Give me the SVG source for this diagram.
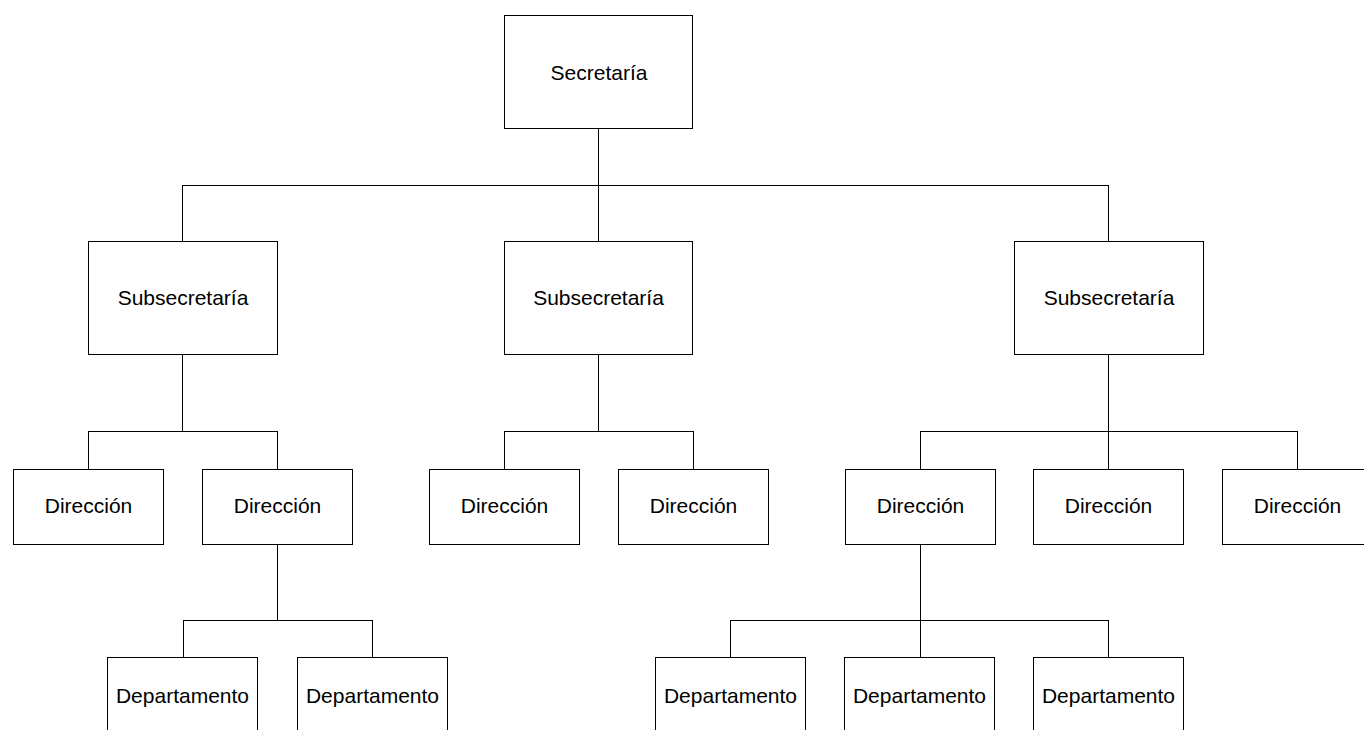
<svg xmlns="http://www.w3.org/2000/svg" width="1364" height="730" viewBox="0 0 1364 730">
<style>
.b{fill:#fff;stroke:#000;stroke-width:1}
.t{font-family:"Liberation Sans",Arial,sans-serif;font-size:21px;fill:#000;text-anchor:middle}
.c{fill:none;stroke:#000;stroke-width:1}
</style>
<rect width="1364" height="730" fill="#fff"/>
<g id="connectors">
<path class="c" d="M598.5 128V241M182.5 185.5H1108.5M182.5 185V241M1108.5 185V241"/>
<path class="c" d="M182.5 355V431.5M88.5 431.5H277.5M88.5 431V469M277.5 431V469"/>
<path class="c" d="M598.5 355V431.5M504.5 431.5H693.5M504.5 431V469M693.5 431V469"/>
<path class="c" d="M1108.5 355V469M920.5 431.5H1297.5M920.5 431V469M1297.5 431V469"/>
<path class="c" d="M277.5 544V620.5M183.5 620.5H372.5M183.5 620V657M372.5 620V657"/>
<path class="c" d="M920.5 544V657M730.5 620.5H1108.5M730.5 620V657M1108.5 620V657"/>
</g>
<g id="secretaria"><rect class="b" x="504.5" y="15.5" width="188" height="113"/><text class="t" x="599" y="79.5">Secretaría</text></g>
<g id="subsec1"><rect class="b" x="88.5" y="241.5" width="189" height="113"/><text class="t" x="183" y="305">Subsecretaría</text></g>
<g id="subsec2"><rect class="b" x="504.5" y="241.5" width="188" height="113"/><text class="t" x="598.5" y="305">Subsecretaría</text></g>
<g id="subsec3"><rect class="b" x="1014.5" y="241.5" width="189" height="113"/><text class="t" x="1109" y="305">Subsecretaría</text></g>
<g id="dir1"><rect class="b" x="13.5" y="469.5" width="150" height="75"/><text class="t" x="88.5" y="513">Dirección</text></g>
<g id="dir2"><rect class="b" x="202.5" y="469.5" width="150" height="75"/><text class="t" x="277.5" y="513">Dirección</text></g>
<g id="dir3"><rect class="b" x="429.5" y="469.5" width="150" height="75"/><text class="t" x="504.5" y="513">Dirección</text></g>
<g id="dir4"><rect class="b" x="618.5" y="469.5" width="150" height="75"/><text class="t" x="693.5" y="513">Dirección</text></g>
<g id="dir5"><rect class="b" x="845.5" y="469.5" width="150" height="75"/><text class="t" x="920.5" y="513">Dirección</text></g>
<g id="dir6"><rect class="b" x="1033.5" y="469.5" width="150" height="75"/><text class="t" x="1108.5" y="513">Dirección</text></g>
<g id="dir7"><rect class="b" x="1222.5" y="469.5" width="150" height="75"/><text class="t" x="1297.5" y="513">Dirección</text></g>
<g id="dep1"><rect class="b" x="107.5" y="657.5" width="150" height="100"/><text class="t" x="182.5" y="703">Departamento</text></g>
<g id="dep2"><rect class="b" x="297.5" y="657.5" width="150" height="100"/><text class="t" x="372.5" y="703">Departamento</text></g>
<g id="dep3"><rect class="b" x="655.5" y="657.5" width="150" height="100"/><text class="t" x="730.5" y="703">Departamento</text></g>
<g id="dep4"><rect class="b" x="844.5" y="657.5" width="150" height="100"/><text class="t" x="919.5" y="703">Departamento</text></g>
<g id="dep5"><rect class="b" x="1033.5" y="657.5" width="150" height="100"/><text class="t" x="1108.5" y="703">Departamento</text></g>
</svg>
